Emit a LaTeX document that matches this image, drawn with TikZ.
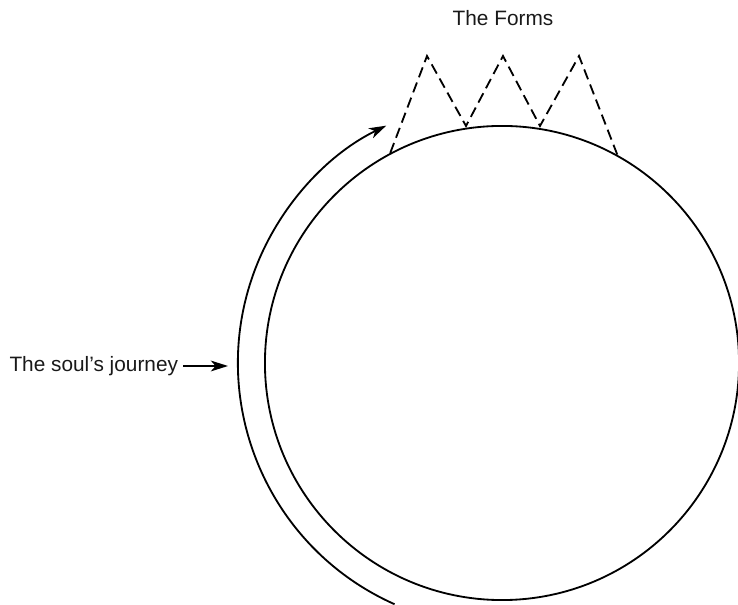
\documentclass[tikz,border=0pt]{standalone}
\usepackage{fontspec}
\setmainfont{Liberation Sans}
\usetikzlibrary{arrows.meta, positioning, calc}
\tikzset{
    world/.style={circle, draw, line width=1.3pt, minimum size=11.85cm, inner sep=0pt},
    journey/.style={-{Stealth[length=4.3mm, width=2.7mm, inset=1.2mm]}, line width=1.3pt},
    pointer/.style={-{Stealth[length=4.3mm, width=2.7mm, inset=1.2mm]}, line width=1.3pt},
    ascent/.style={line width=1.3pt, dash pattern=on 7.5pt off 4pt},
    lbl/.style={font=\fontsize{14.8}{17}\selectfont, text=black!90},
}

\begin{document}
\begin{tikzpicture}[x=0.025cm, y=0.025cm]

    \useasboundingbox (0,0) rectangle (738,605);

    \node[world] (world) at (502,242) {};

    \node[lbl, anchor=base] (forms) at (503,579) {The Forms};

    \node[lbl, anchor=east] (soul) at (183,239) {The soul’s journey};
    \coordinate (soultip) at (228,239);

    % peaks and valleys of the climb
    \coordinate (peaka) at (427,549);
    \coordinate (dipa) at (466,479);
    \coordinate (peakb) at (503,549);
    \coordinate (dipb) at (540,479);
    \coordinate (peakc) at (579,549);

    % Soul -> Forms
    \draw[ascent] (world.118) -- (peaka) -- (dipa) -- (peakb)
        -- (dipb) -- (peakc) -- (world.61.5);

    % the way round
    \draw[journey] ([shift=(246:6.6cm)]world.center)
        arc[start angle=246, end angle=116, radius=6.6cm];

    % label -> path
    \draw[pointer] (soul.east) -- (soultip);

\end{tikzpicture}
\end{document}
